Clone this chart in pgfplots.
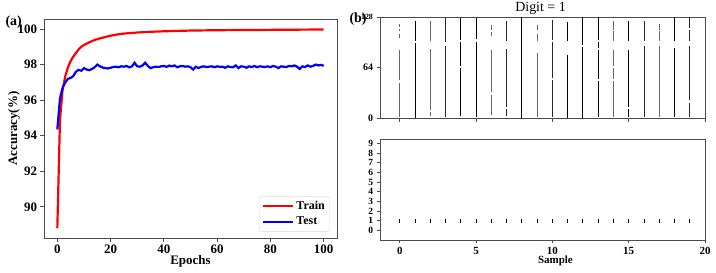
\documentclass[border=0pt]{standalone}
\usepackage{fontspec}
\setmainfont{Liberation Serif}
\usepackage{pgfplots}
\pgfplotsset{compat=1.18}
\begin{document}
\begin{tikzpicture}
\useasboundingbox (0bp,0bp) rectangle (716bp,273bp);
\pgfplotsset{
  every axis/.append style={
    scale only axis,
    axis line style={black!70, line width=0.8pt},
    tick align=outside, tick pos=left,
    major tick length=3.5bp,
    tick style={black!70, line width=0.8pt},
    /pgf/number format/assume math mode=true,
  },
  dk/.style={black, line width=1.0pt},
  md/.style={black!85, line width=0.85pt},
  lt/.style={black!60, line width=0.75pt},
}
\node[anchor=west, font=\bfseries\fontsize{14}{16}\selectfont] at (2bp,251bp) {(a)};
\node[anchor=west, font=\bfseries\fontsize{14}{16}\selectfont] at (346bp,254bp) {(b)};
% ---------------- (a)
\begin{axis}[at={(44bp,35bp)}, anchor=south west, width=293bp, height=219bp,
  xmin=-5, xmax=105, ymin=88.25, ymax=100.56,
  xtick={0,20,...,100}, ytick={90,92,...,100},
  tick label style={font=\bfseries\fontsize{13}{15}\selectfont},
  label style={font=\bfseries\fontsize{13}{15}\selectfont},
  xlabel={Epochs}, ylabel={Accuracy(\%)},
  xlabel style={at={(axis description cs:0.5,-0.105)}, anchor=center},
  ylabel style={at={(axis description cs:-0.102,0.5)}, anchor=center, rotate=0},
  legend style={at={(0.976,0.029)}, anchor=south east, draw=black!15, rounded corners=2pt,
    font=\bfseries\fontsize{12}{14}\selectfont, row sep=2pt, inner sep=3pt},
  legend cell align=left,
  legend image code/.code={\draw[#1] (0bp,0bp) -- (30bp,0bp);},
]
\addplot[red, line width=2.2pt] coordinates {
(0,88.8)(1,94.9)(2,96.6)(3,97.35)(4,97.85)(5,98.2)(6,98.45)(7,98.65)(8,98.85)(9,99.0)(10,99.1)
(12,99.25)(14,99.38)(16,99.47)(18,99.55)(20,99.62)(22,99.68)(25,99.74)(30,99.8)(35,99.84)
(40,99.87)(45,99.89)(50,99.91)(60,99.93)(70,99.94)(80,99.95)(90,99.96)(100,99.97)};
\addlegendentry{Train}
\addplot[blue, line width=2.2pt] coordinates {
(0,94.35)(1,96.1)(2,96.7)(3,97.0)(4,97.2)(5,97.25)(6,97.35)(7,97.6)(8,97.7)(9,97.65)
(10,97.8)(11,97.72)(12,97.68)(13,97.75)(14,97.85)(15,98.0)(16,97.9)(17,97.83)(18,97.8)(19,97.78)
(20,97.82)(21,97.86)(22,97.88)(23,97.85)(24,97.9)(25,97.88)(26,97.92)(27,97.84)(28,97.9)(29,98.1)
(30,97.9)(31,97.88)(32,97.95)(33,98.1)(34,97.92)(35,97.8)(36,97.85)(37,97.88)(38,97.86)(39,97.9)
(40,97.92)(41,97.87)(42,97.94)(43,97.9)(44,97.95)(45,97.85)(46,97.9)(47,97.92)(48,97.88)(49,97.9)
(50,97.85)(51,97.72)(52,97.88)(53,97.8)(54,97.87)(55,97.9)(56,97.86)(57,97.88)(58,97.9)(59,97.85)
(60,97.9)(61,97.87)(62,97.88)(63,97.82)(64,97.9)(65,97.86)(66,97.85)(67,97.95)(68,97.8)(69,97.9)
(70,97.88)(71,97.82)(72,97.9)(73,97.86)(74,97.92)(75,97.85)(76,97.9)(77,97.88)(78,97.86)(79,97.9)
(80,97.85)(81,97.92)(82,97.88)(83,97.8)(84,97.9)(85,97.88)(86,97.86)(87,97.92)(88,97.9)(89,97.95)
(90,97.88)(91,97.75)(92,97.9)(93,97.86)(94,97.95)(95,97.88)(96,97.92)(97,98.0)(98,97.95)(99,97.98)
(100,97.93)};
\addlegendentry{Test}
\end{axis}
% ---------------- (b) top raster
\begin{axis}[at={(380bp,154.5bp)}, anchor=south west, width=325bp, height=101.5bp,
  xmin=-1.3, xmax=20, ymin=0, ymax=128,
  xtick={0,5,...,20}, xticklabels={},
  ytick={0,64,128}, yticklabels={0,64,{\fontsize{8}{9}\selectfont\bfseries 128}},
  tick label style={font=\bfseries\fontsize{10}{12}\selectfont},
  every axis title shift=0pt,
  title={Digit = 1}, title style={font=\fontsize{14}{16}\selectfont, at={(axis description cs:0.494,1.085)}, anchor=center},
  unbounded coords=jump,
]
\addplot[lt] coordinates {(0,2)(0,45)(0,nan)(0,48)(0,87)(0,nan)(0,102)(0,106)(0,nan)(0,110)(0,113)(0,nan)(0,115)(0,119)};
\addplot[dk] coordinates {(1,0)(1,95)(1,nan)(1,98)(1,123)};
\addplot[lt] coordinates {(2,3)(2,8)(2,nan)(2,11)(2,88)(2,nan)(2,98)(2,123)};
\addplot[md] coordinates {(3,2)(3,92)(3,nan)(3,96)(3,127)};
\addplot[dk] coordinates {(4,3)(4,64)(4,nan)(4,66)(4,96)(4,nan)(4,99)(4,127)};
\addplot[dk] coordinates {(5,2)(5,96)(5,nan)(5,100)(5,127)};
\addplot[lt] coordinates {(6,5)(6,30)(6,nan)(6,33)(6,86)(6,nan)(6,104)(6,109)(6,nan)(6,111)(6,118)};
\addplot[md] coordinates {(7,3)(7,12)(7,nan)(7,15)(7,88)(7,nan)(7,98)(7,123)};
\addplot[dk] coordinates {(8,0)(8,128)};
\addplot[lt] coordinates {(9,2)(9,82)(9,nan)(9,98)(9,106)(9,nan)(9,111)(9,118)};
\addplot[md] coordinates {(10,2)(10,48)(10,nan)(10,51)(10,97)(10,nan)(10,99)(10,124)};
\addplot[dk] coordinates {(11,0)(11,80)(11,nan)(11,98)(11,122)};
\addplot[dk] coordinates {(12,0)(12,90)(12,nan)(12,93)(12,128)};
\addplot[dk] coordinates {(13,2)(13,47)(13,nan)(13,50)(13,86)(13,nan)(13,89)(13,96)(13,nan)(13,99)(13,128)};
\addplot[lt] coordinates {(14,2)(14,47)(14,nan)(14,50)(14,64)(14,nan)(14,66)(14,87)(14,nan)(14,98)(14,110)(14,nan)(14,112)(14,123)};
\addplot[dk] coordinates {(15,2)(15,12)(15,nan)(15,15)(15,87)(15,nan)(15,98)(15,123)};
\addplot[md] coordinates {(16,2)(16,91)(16,nan)(16,98)(16,123)};
\addplot[lt] coordinates {(17,2)(17,91)(17,nan)(17,98)(17,110)(17,nan)(17,112)(17,119)};
\addplot[dk] coordinates {(18,2)(18,89)(18,nan)(18,98)(18,128)};
\addplot[md] coordinates {(19,2)(19,19)(19,nan)(19,23)(19,91)(19,nan)(19,98)(19,112)(19,nan)(19,114)(19,128)};
\end{axis}
% ---------------- (b) bottom
\begin{axis}[at={(380bp,33bp)}, anchor=south west, width=325bp, height=101bp,
  xmin=-1.3, xmax=20, ymin=-1, ymax=9.45,
  xtick={0,5,...,20}, ytick={0,1,...,9},
  xticklabel style={font=\bfseries\fontsize{11}{13}\selectfont},
  yticklabel style={font=\bfseries\fontsize{9.5}{10}\selectfont},
  xlabel={Sample}, xlabel style={font=\bfseries\fontsize{11}{13}\selectfont, at={(axis description cs:0.54,-0.21)}, anchor=center},
  unbounded coords=jump,
]
\addplot[black, line width=0.9pt] coordinates {
(0,0.78)(0,1.22)(0,nan)(1,0.78)(1,1.22)(1,nan)(2,0.78)(2,1.22)(2,nan)(3,0.78)(3,1.22)(3,nan)
(4,0.78)(4,1.22)(4,nan)(5,0.78)(5,1.22)(5,nan)(6,0.78)(6,1.22)(6,nan)(7,0.78)(7,1.22)(7,nan)
(8,0.78)(8,1.22)(8,nan)(9,0.78)(9,1.22)(9,nan)(10,0.78)(10,1.22)(10,nan)(11,0.78)(11,1.22)(11,nan)
(12,0.78)(12,1.22)(12,nan)(13,0.78)(13,1.22)(13,nan)(14,0.78)(14,1.22)(14,nan)(15,0.78)(15,1.22)(15,nan)
(16,0.78)(16,1.22)(16,nan)(17,0.78)(17,1.22)(17,nan)(18,0.78)(18,1.22)(18,nan)(19,0.78)(19,1.22)};
\end{axis}
\end{tikzpicture}
\end{document}
